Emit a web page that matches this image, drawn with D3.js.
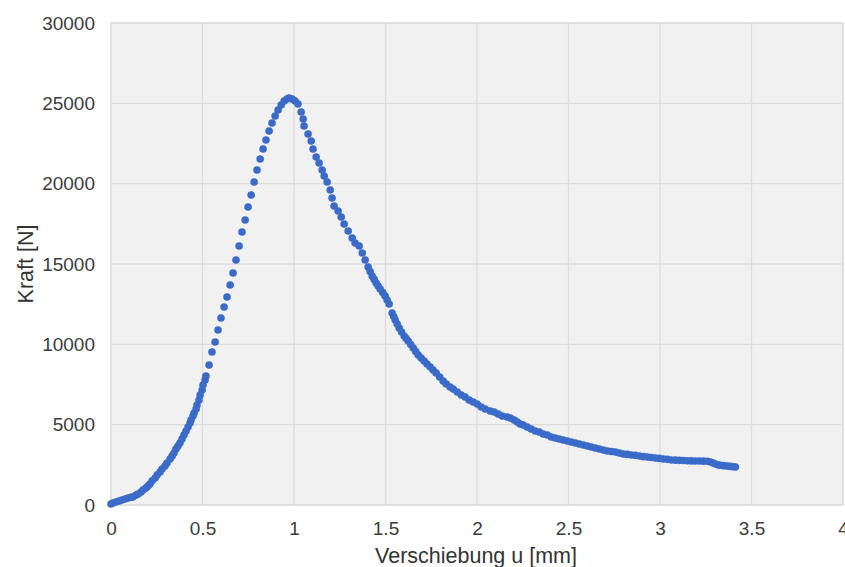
<!DOCTYPE html>
<html><head><meta charset="utf-8">
<script src="https://cdn.jsdelivr.net/npm/d3@7"></script>
<style>body{margin:0;background:#fff;}svg{display:block;}</style>
</head><body>
<svg id="c" width="845" height="567"></svg>
<script>
const xTicks = [0, 0.5, 1, 1.5, 2, 2.5, 3, 3.5, 4];
const yTicks = [0, 5000, 10000, 15000, 20000, 25000, 30000];
const xTitle = "Verschiebung u [mm]";
const yTitle = "Kraft [N]";

// displacement u [mm]
const displacement = [0.000,0.011,0.027,0.044,0.060,0.077,0.093,0.109,0.120,0.137,0.148,0.164,0.175,0.191,0.202,0.213,0.224,0.241,0.252,0.268,0.279,0.295,0.306,0.323,0.334,0.344,0.355,0.366,0.377,0.388,0.399,0.410,0.421,0.432,0.437,0.448,0.454,0.465,0.470,0.481,0.487,0.498,0.503,0.514,0.519,0.536,0.552,0.569,0.585,0.601,0.618,0.634,0.651,0.667,0.683,0.700,0.716,0.733,0.749,0.766,0.782,0.798,0.815,0.831,0.847,0.864,0.880,0.897,0.913,0.930,0.946,0.962,0.973,0.990,1.006,1.022,1.039,1.050,1.055,1.077,1.094,1.104,1.121,1.137,1.154,1.165,1.181,1.198,1.208,1.219,1.241,1.258,1.274,1.296,1.318,1.334,1.356,1.373,1.389,1.405,1.416,1.427,1.438,1.449,1.460,1.471,1.485,1.498,1.509,1.520,1.536,1.545,1.553,1.564,1.575,1.588,1.602,1.613,1.624,1.638,1.652,1.665,1.679,1.695,1.711,1.727,1.744,1.760,1.777,1.796,1.815,1.832,1.853,1.870,1.892,1.914,1.935,1.957,1.979,2.001,2.023,2.045,2.072,2.094,2.116,2.138,2.165,2.182,2.203,2.220,2.236,2.252,2.274,2.296,2.318,2.340,2.362,2.384,2.406,2.427,2.449,2.471,2.493,2.515,2.537,2.559,2.581,2.603,2.624,2.646,2.668,2.690,2.712,2.734,2.756,2.778,2.799,2.821,2.843,2.865,2.887,2.909,2.931,2.952,2.974,2.996,3.018,3.040,3.062,3.084,3.106,3.127,3.149,3.171,3.193,3.215,3.237,3.259,3.275,3.291,3.302,3.319,3.330,3.346,3.363,3.379,3.390,3.401,3.412];
// force F [N]
const force = [60,125,187,249,311,373,436,480,498,622,685,809,934,1058,1183,1307,1494,1680,1867,2054,2240,2427,2614,2863,3050,3237,3486,3672,3859,4108,4357,4606,4855,5104,5290,5539,5726,5975,6224,6535,6846,7157,7468,7780,8029,8713,9522,10144,10892,11639,12323,12946,13693,14440,15249,16120,16991,17738,18547,19294,20104,20851,21535,22157,22717,23277,23775,24210,24584,24895,25144,25268,25330,25268,25144,24957,24459,24024,23588,23090,22655,22157,21659,21286,20851,20477,20104,19606,19108,18610,18299,17926,17490,17054,16619,16308,16121,15685,15249,14814,14530,14253,14040,13818,13630,13444,13220,13009,12760,12511,11951,11730,11515,11270,11017,10770,10519,10360,10208,9990,9772,9550,9336,9150,8963,8780,8590,8400,8216,7970,7718,7531,7344,7220,7033,6846,6722,6535,6411,6286,6100,5975,5851,5789,5664,5539,5477,5415,5290,5166,5041,4979,4855,4730,4606,4544,4419,4357,4232,4170,4108,4046,3983,3921,3859,3797,3734,3672,3610,3548,3485,3423,3361,3330,3299,3237,3174,3150,3112,3090,3050,3010,2988,2960,2925,2900,2863,2840,2801,2790,2780,2770,2750,2745,2740,2735,2730,2720,2676,2614,2552,2490,2470,2450,2427,2410,2400,2380,2365];

const svg = d3.select("#c");
const L = 111, R = 843, T = 23, B = 505;
const x = d3.scaleLinear().domain([0, 4]).range([L, R]);
const y = d3.scaleLinear().domain([0, 30000]).range([B, T]);
const font = "'Liberation Sans', Arial, Helvetica, sans-serif";

svg.append("rect").attr("x", L).attr("y", T).attr("width", R - L).attr("height", B - T)
  .attr("fill", "#f1f1f1").attr("stroke", "#dddddd").attr("stroke-width", 1.2);

const g = svg.append("g");
g.selectAll("line.gx").data(xTicks).join("line")
  .attr("x1", d => x(d)).attr("x2", d => x(d)).attr("y1", T).attr("y2", B)
  .attr("stroke", "#dcdcdc").attr("stroke-width", 1.3);
g.selectAll("line.gy").data(yTicks).join("line")
  .attr("y1", d => y(d)).attr("y2", d => y(d)).attr("x1", L).attr("x2", R)
  .attr("stroke", "#dcdcdc").attr("stroke-width", 1.3);

const xAxis = svg.append("g").attr("transform", `translate(0,${B})`)
  .call(d3.axisBottom(x).tickValues(xTicks).tickSize(0).tickPadding(17).tickFormat(d3.format("")));
xAxis.select(".domain").remove();
xAxis.selectAll("text").attr("font-family", font).attr("font-size", 19).attr("fill", "#3c3c3c");

const yAxis = svg.append("g").attr("transform", `translate(${L},0)`)
  .call(d3.axisLeft(y).tickValues(yTicks).tickSize(0).tickPadding(16).tickFormat(d3.format("")));
yAxis.select(".domain").remove();
yAxis.selectAll("text").attr("font-family", font).attr("font-size", 19).attr("fill", "#3c3c3c");

const pts = displacement.map((u, i) => ({u, f: force[i]}));
svg.append("g").selectAll("circle").data(pts).join("circle")
  .attr("cx", d => x(d.u)).attr("cy", d => y(d.f)).attr("r", 3.8)
  .attr("fill", "#3b6bc8");

svg.append("text").attr("x", (L + R) / 2 - 1).attr("y", 563).attr("text-anchor", "middle")
  .attr("font-family", font).attr("font-size", 21.5).attr("fill", "#333").text(xTitle);
svg.append("text").attr("transform", `translate(33,${(T + B) / 2}) rotate(-90)`).attr("text-anchor", "middle")
  .attr("font-family", font).attr("font-size", 21.5).attr("fill", "#333").text(yTitle);
</script>
</body></html>
